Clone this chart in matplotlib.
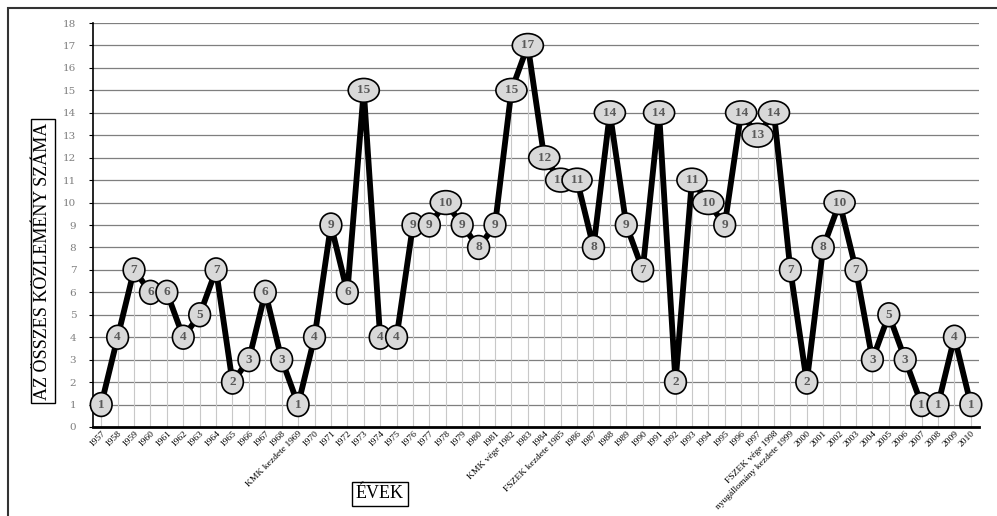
import matplotlib.pyplot as plt
from matplotlib.patches import Rectangle
from matplotlib.path import Path

years = ['1957', '1958', '1959', '1960', '1961', '1962', '1963', '1964', '1965',
         '1966', '1967', '1968', 'KMK kezdete 1969', '1970', '1971', '1972', '1973',
         '1974', '1975', '1976', '1977', '1978', '1979', '1980', '1981',
         'KMK vége 1982', '1983', '1984', 'FSZEK kezdete 1985', '1986', '1987',
         '1988', '1989', '1990', '1991', '1992', '1993', '1994', '1995', '1996',
         '1997', 'FSZEK vége 1998', 'nyugállomány kezdete 1999', '2000', '2001',
         '2002', '2003', '2004', '2005', '2006', '2007', '2008', '2009', '2010']
counts = [1, 4, 7, 6, 6, 4, 5, 7, 2, 3, 6, 3, 1, 4, 9, 6, 15, 4, 4, 9, 9, 10, 9, 8,
          9, 15, 17, 12, 11, 11, 8, 14, 9, 7, 14, 2, 11, 10, 9, 14, 13, 14, 7, 2,
          8, 10, 7, 3, 5, 3, 1, 1, 4, 1]
y_ticks = list(range(0, 19))

serif = 'Liberation Serif'
x = list(range(len(years)))


def label_ellipse(x0, y0, width, height, mutation_size):
    # ellipse fitted to the text width, fixed height (like the excel data labels)
    cx, cy = x0 + width / 2, y0 + height / 2
    a = (width / 2 + 0.33 * mutation_size) * 1.414
    b = 0.9 * mutation_size
    circle = Path.unit_circle()
    verts = circle.vertices * [a, b] + [cx, cy]
    return Path(verts, circle.codes)


fig = plt.figure(figsize=(9.97, 5.16), dpi=100)
ax = fig.add_axes([0.0933, 0.1725, 0.8887, 0.7829])

# outer chart frame (cut off at right and bottom like the source)
fig.patches.append(Rectangle((8 / 997, -0.1), 1.2, 1 - 8 / 516 + 0.1,
                             transform=fig.transFigure, fill=False,
                             edgecolor='#333333', linewidth=1.5))

for t in y_ticks[1:]:
    ax.axhline(t, color='#7f7f7f', linewidth=0.9, zorder=1)
ax.vlines(x, 0, counts, color='#c8c8c8', linewidth=0.8, zorder=1)
ax.plot(x, counts, color='black', linewidth=4.2, zorder=2, solid_capstyle='butt')

for xi, v in zip(x, counts):
    ax.text(xi, v, str(v), ha='center', va='center', fontsize=9.5, fontweight='bold',
            family=serif, color='#595959', zorder=3,
            bbox=dict(boxstyle=label_ellipse, facecolor='#d9d9d9',
                      edgecolor='black', linewidth=1.2))

ax.set_xlim(-0.5, len(years) - 0.5)
ax.set_ylim(0, 18)
ax.set_yticks(y_ticks)
ax.set_yticklabels([str(t) for t in y_ticks], family='DejaVu Serif', fontsize=7.5,
                   color='#7f7f7f')
ax.tick_params(axis='y', length=3, pad=9, color='black')
ax.set_xticks(x)
ax.set_xticklabels(years, rotation=45, ha='right', va='top', rotation_mode='anchor',
                   family=serif, fontsize=6.8)
ax.tick_params(axis='x', length=0, pad=2)

ax.spines['top'].set_visible(False)
ax.spines['right'].set_visible(False)
ax.spines['left'].set_linewidth(1.2)
ax.spines['bottom'].set_linewidth(2)

fig.text(43 / 997, 1 - 261 / 516, 'AZ ÖSSZES KÖZLEMÉNY SZÁMA', rotation=90,
         ha='center', va='center', family=serif, fontsize=13,
         bbox=dict(boxstyle='square,pad=0.2', facecolor='white', edgecolor='black',
                   linewidth=1))
fig.text(380 / 997, 1 - 494 / 516, 'ÉVEK', ha='center', va='center', family=serif,
         fontsize=13, bbox=dict(boxstyle='square,pad=0.2', facecolor='white',
                                edgecolor='black', linewidth=1))

fig.savefig('out.png', dpi=100)
